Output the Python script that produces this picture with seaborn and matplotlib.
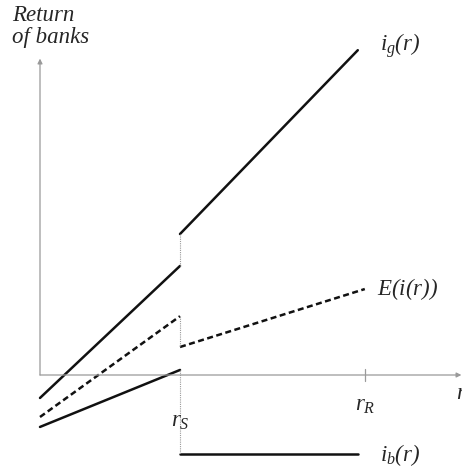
import matplotlib
matplotlib.use("Agg")
import matplotlib.pyplot as plt
import numpy as np
import pandas as pd
import seaborn as sns

# interest rate positions (r = 0 at the origin)
r_S = 1.0
r_R = 2.32
r_end = 2.27

# returns of banks at the segment end points
ig_low = [-0.164, 0.779]     # i_g(r) for r < r_S
ig_high = [1.007, 2.32]      # i_g(r) for r > r_S
E_low = [-0.30, 0.42]        # E(i(r)) for r < r_S
E_high = [0.20, 0.614]       # E(i(r)) for r > r_S
ib_low = [-0.371, 0.036]     # i_b(r) for r < r_S
ib_high = [-0.564, -0.564]   # i_b(r) for r > r_S

sns.set_style("white")
plt.rcParams["mathtext.fontset"] = "custom"
plt.rcParams["mathtext.rm"] = "Liberation Serif:italic"
plt.rcParams["mathtext.it"] = "Liberation Serif:italic"
plt.rcParams["font.family"] = ["Liberation Serif", "DejaVu Serif"]

fig = plt.figure(figsize=(4.62, 4.73), dpi=100)
ax = fig.add_axes([0, 0, 1, 1])
ax.set_xlim(-40 / 140, 422 / 140)
ax.set_ylim(-98 / 140, 375 / 140)
ax.axis("off")

segs = pd.DataFrame({
    "r": [0, r_S, r_S, r_end, 0, r_S, r_S, r_R, 0, r_S, r_S, r_end],
    "ret": ig_low + ig_high + E_low + E_high + ib_low + ib_high,
    "seg": ["igl"] * 2 + ["igh"] * 2 + ["El"] * 2 + ["Eh"] * 2 + ["ibl"] * 2 + ["ibh"] * 2,
})
styles = {"igl": "-", "igh": "-", "El": (0, (2.4, 1.4)), "Eh": (0, (2.4, 1.4)), "ibl": "-", "ibh": "-"}
for s, st in styles.items():
    sub = segs[segs.seg == s]
    sns.lineplot(data=sub, x="r", y="ret", ax=ax, color="#111111", lw=1.8,
                 linestyle=st, sort=False, estimator=None)

# dotted jumps at r_S
grey = "#9a9a9a"
for a, b in [(ig_low[1], ig_high[0]), (E_low[1], E_high[0]), (ib_low[1], ib_high[0])]:
    ax.plot([r_S, r_S], [a, b], color=grey, lw=0.8, ls=(0, (1, 1)))

# axes with arrows
ax.annotate("", xy=(3.01, 0), xytext=(0, 0),
            arrowprops=dict(arrowstyle="-|>", color=grey, lw=0.9, mutation_scale=7,
                            shrinkA=0, shrinkB=0))
ax.annotate("", xy=(0, 2.26), xytext=(0, 0),
            arrowprops=dict(arrowstyle="-|>", color=grey, lw=0.9, mutation_scale=7,
                            shrinkA=0, shrinkB=0))
ax.plot([r_R, r_R], [-0.04, 0.04], color=grey, lw=0.9)

fs = 16.5
ax.text(-0.2, 2.49, "Return\nof banks", fontsize=fs, style="italic", va="center",
        ha="left", linespacing=1.05)
ax.text(r_end + 0.16, 2.35, r"$i_g(r)$", fontsize=fs, va="center", ha="left")
ax.text(r_R + 0.09, 0.614, r"$E(i(r))$", fontsize=fs, va="center", ha="left")
ax.text(r_end + 0.16, -0.57, r"$i_b(r)$", fontsize=fs, va="center", ha="left")
ax.text(r_S, -0.33, r"$r_S$", fontsize=fs, va="center", ha="center")
ax.text(r_R, -0.22, r"$r_R$", fontsize=fs, va="center", ha="center")
ax.text(2.97, -0.13, r"$r$", fontsize=fs, va="center", ha="left")

fig.savefig("out.png", dpi=100)
